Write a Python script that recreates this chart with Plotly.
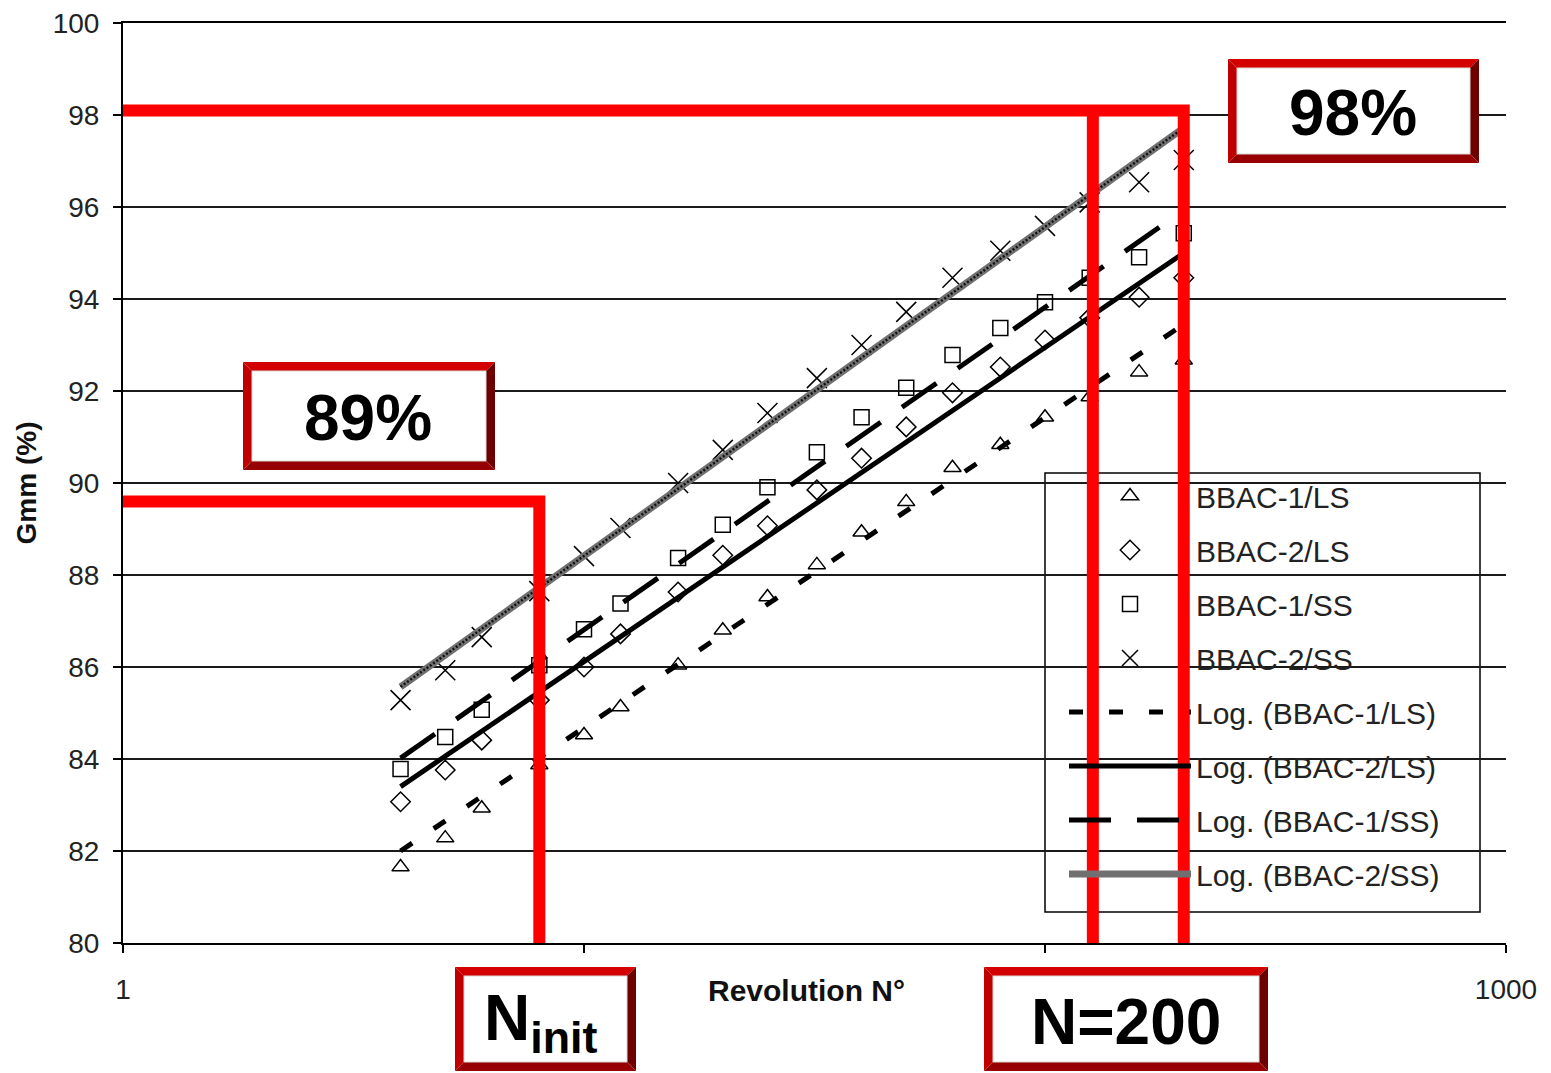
import plotly.graph_objects as go

# ---------------- data ----------------
N = [4, 5, 6, 8, 10, 12, 16, 20, 25, 32, 40, 50, 63, 80, 100, 125, 160, 200]
BBAC1_LS = [81.65, 82.28, 82.93, 83.87, 84.52, 85.13, 86.04, 86.80, 87.52, 88.22,
            88.93, 89.59, 90.33, 90.83, 91.43, 91.87, 92.41, 92.67]
BBAC2_LS = [83.07, 83.76, 84.41, 85.28, 86.00, 86.72, 87.63, 88.43, 89.07, 89.85,
            90.54, 91.22, 91.96, 92.52, 93.11, 93.59, 94.04, 94.46]
BBAC1_SS = [83.78, 84.48, 85.07, 86.04, 86.82, 87.38, 88.37, 89.09, 89.91, 90.67,
            91.43, 92.07, 92.78, 93.37, 93.93, 94.46, 94.91, 95.43]
BBAC2_SS = [85.28, 85.93, 86.65, 87.65, 88.41, 89.02, 90.00, 90.72, 91.52, 92.28,
            93.00, 93.72, 94.46, 95.05, 95.59, 96.10, 96.54, 97.02]

# logarithmic trendlines (straight on a log axis): values at N=4 and N=200
TREND_N = [4, 200]
TREND1_LS = [82.00, 93.45]
TREND2_LS = [83.40, 95.00]
TREND1_SS = [84.02, 95.93]
TREND2_SS = [85.57, 97.72]

# reference levels drawn in red
N_INIT, N_DES, N_MAX = 8, 127, 200
G_INIT, G_MAX = 89.6, 98.1
Y_MIN = 80

NAMES = ["BBAC-1/LS", "BBAC-2/LS", "BBAC-1/SS", "BBAC-2/SS"]
X_LABELLED = [1, 1000]       # 10 and 100 labels are hidden under the boxes
X_MINOR = [10, 100]
Y_TICKS = list(range(80, 101, 2))

# ---------------- layout helpers (screen pixels) ----------------
OFF = 8                      # default page body margin
W, H = 1551 - OFF, 1073 - OFF
L, R, T, B = 123, 1506, 23, 943


def px(x):
    return (x - L) / (R - L)


def py(y):
    return (B - y) / (B - T)


FONT = "Liberation Sans, Arial, sans-serif"

fig = go.Figure()

marker_specs = [
    ("triangle-up-open", 15, BBAC1_LS),
    ("diamond-open", 15, BBAC2_LS),
    ("square-open", 15, BBAC1_SS),
    ("x-thin-open", 20, BBAC2_SS),
]
rank = 1
for (sym, size, vals), name in zip(marker_specs, NAMES):
    fig.add_trace(go.Scatter(
        x=N, y=vals, mode="markers", name=name, legendgroup=name, legendrank=rank,
        marker=dict(symbol=sym, size=size, color="black",
                    line=dict(color="black", width=1.5)),
    ))
    rank += 1

trend_specs = [
    (TREND1_LS, dict(color="black", width=5, dash="14px,26px")),
    (TREND2_LS, dict(color="black", width=5)),
    (TREND1_SS, dict(color="black", width=5, dash="42px,26px")),
    (TREND2_SS, dict(color="#707070", width=7)),
]
for (vals, line), name in zip(trend_specs, NAMES):
    fig.add_trace(go.Scatter(
        x=TREND_N, y=vals, mode="lines", name=f"Log. ({name})",
        legendgroup="t" + name, legendrank=rank, line=line,
    ))
    rank += 1
# texture overlay for the last trendline
fig.add_trace(go.Scatter(
    x=TREND_N, y=TREND2_SS, mode="lines", showlegend=False,
    legendgroup="t" + NAMES[3], line=dict(color="#111", width=2.5, dash="2px,2px"),
    hoverinfo="skip",
))

# red reference lines
red = dict(color="#ff0000", width=12)
fig.add_trace(go.Scatter(x=[1, N_INIT, N_INIT], y=[G_INIT, G_INIT, Y_MIN], mode="lines",
                         line=red, showlegend=False, hoverinfo="skip"))
fig.add_trace(go.Scatter(x=[1, N_MAX, N_MAX], y=[G_MAX, G_MAX, Y_MIN], mode="lines",
                         line=red, showlegend=False, hoverinfo="skip"))
fig.add_trace(go.Scatter(x=[N_DES, N_DES], y=[G_MAX, Y_MIN], mode="lines",
                         line=red, showlegend=False, hoverinfo="skip"))

shapes = []
# legend frame
shapes.append(dict(type="rect", xref="paper", yref="paper", layer="between",
                   x0=px(1045), x1=px(1480), y0=py(912), y1=py(473),
                   fillcolor="white", line=dict(color="black", width=1.5)))


def bevel_box(x0, y0, x1, y1, b=9):
    out = []
    polys = [
        ([(x0, y0), (x1, y0), (x1 - b, y0 + b), (x0 + b, y0 + b)], "#d40000"),
        ([(x0, y0), (x0 + b, y0 + b), (x0 + b, y1 - b), (x0, y1)], "#c00000"),
        ([(x1, y0), (x1, y1), (x1 - b, y1 - b), (x1 - b, y0 + b)], "#6e0000"),
        ([(x0, y1), (x1, y1), (x1 - b, y1 - b), (x0 + b, y1 - b)], "#960000"),
    ]
    for pts, col in polys:
        path = "M " + " L ".join(f"{px(a):.5f},{py(c):.5f}" for a, c in pts) + " Z"
        out.append(dict(type="path", xref="paper", yref="paper", layer="above",
                        path=path, fillcolor=col, line=dict(width=0)))
    out.append(dict(type="rect", xref="paper", yref="paper", layer="above",
                    x0=px(x0 + b), x1=px(x1 - b), y0=py(y1 - b), y1=py(y0 + b),
                    fillcolor="white", line=dict(color="#d8d8d8", width=1)))
    return out


boxes = [
    ((1228, 59, 1479, 163), "98%", (1353, 113)),
    ((243, 362, 495, 470), "89%", (368, 418)),
    ((455, 967, 636, 1071), "N<sub>init</sub>", (540, 1022)),
    ((984, 967, 1268, 1071), "N=200", (1126, 1022)),
]
annotations = []
for (x0, y0, x1, y1), txt, (cx, cy) in boxes:
    shapes += bevel_box(x0, y0, x1, y1)
    annotations.append(dict(text=txt, xref="paper", yref="paper", x=px(cx), y=py(cy),
                            xanchor="center", yanchor="middle", showarrow=False,
                            font=dict(family=FONT, size=64, color="black", weight="bold")))

annotations.append(dict(text="Revolution N°", xref="paper", yref="paper",
                        x=px(806), y=py(990), xanchor="center", yanchor="middle",
                        showarrow=False,
                        font=dict(family=FONT, size=30, color="#111", weight="bold")))

fig.update_layout(
    width=W, height=H,
    margin=dict(l=L - OFF, r=1551 - R, t=T - OFF, b=1073 - B, autoexpand=False),
    paper_bgcolor="white", plot_bgcolor="white",
    font=dict(family=FONT, color="#222"),
    shapes=shapes, annotations=annotations,
    showlegend=True,
    legend=dict(x=px(1064), y=py(470), xanchor="left", yanchor="top",
                bgcolor="rgba(0,0,0,0)", borderwidth=0,
                font=dict(family=FONT, size=30, color="#222"),
                itemwidth=122, tracegroupgap=12, traceorder="grouped",
                itemsizing="trace"),
    xaxis=dict(type="log", range=[0, 3], tickmode="array", tickvals=X_LABELLED,
               ticktext=[str(v) for v in X_LABELLED],
               showgrid=False, showline=True, mirror=True,
               linecolor="black", linewidth=2,
               ticks="outside", ticklen=8, tickwidth=2, tickcolor="black",
               tickfont=dict(family=FONT, size=28, color="#222"),
               ticklabelstandoff=12, ticklabeloverflow="allow", zeroline=False,
               minor=dict(tickmode="array", tickvals=X_MINOR, ticks="outside",
                          ticklen=8, tickwidth=2, tickcolor="black", showgrid=False)),
    yaxis=dict(range=[80, 100], tickmode="array", tickvals=Y_TICKS,
               showgrid=True, gridcolor="#1a1a1a", gridwidth=1.5,
               showline=True, linecolor="black", linewidth=2,
               ticks="outside", ticklen=8, tickwidth=2, tickcolor="black",
               tickfont=dict(family=FONT, size=28, color="#222"),
               ticklabelstandoff=8, ticklabeloverflow="allow", zeroline=False,
               title=dict(text="Gmm (%)", standoff=8,
                          font=dict(family=FONT, size=28, color="#111", weight="bold"))),
)

fig.write_html("out.html")
